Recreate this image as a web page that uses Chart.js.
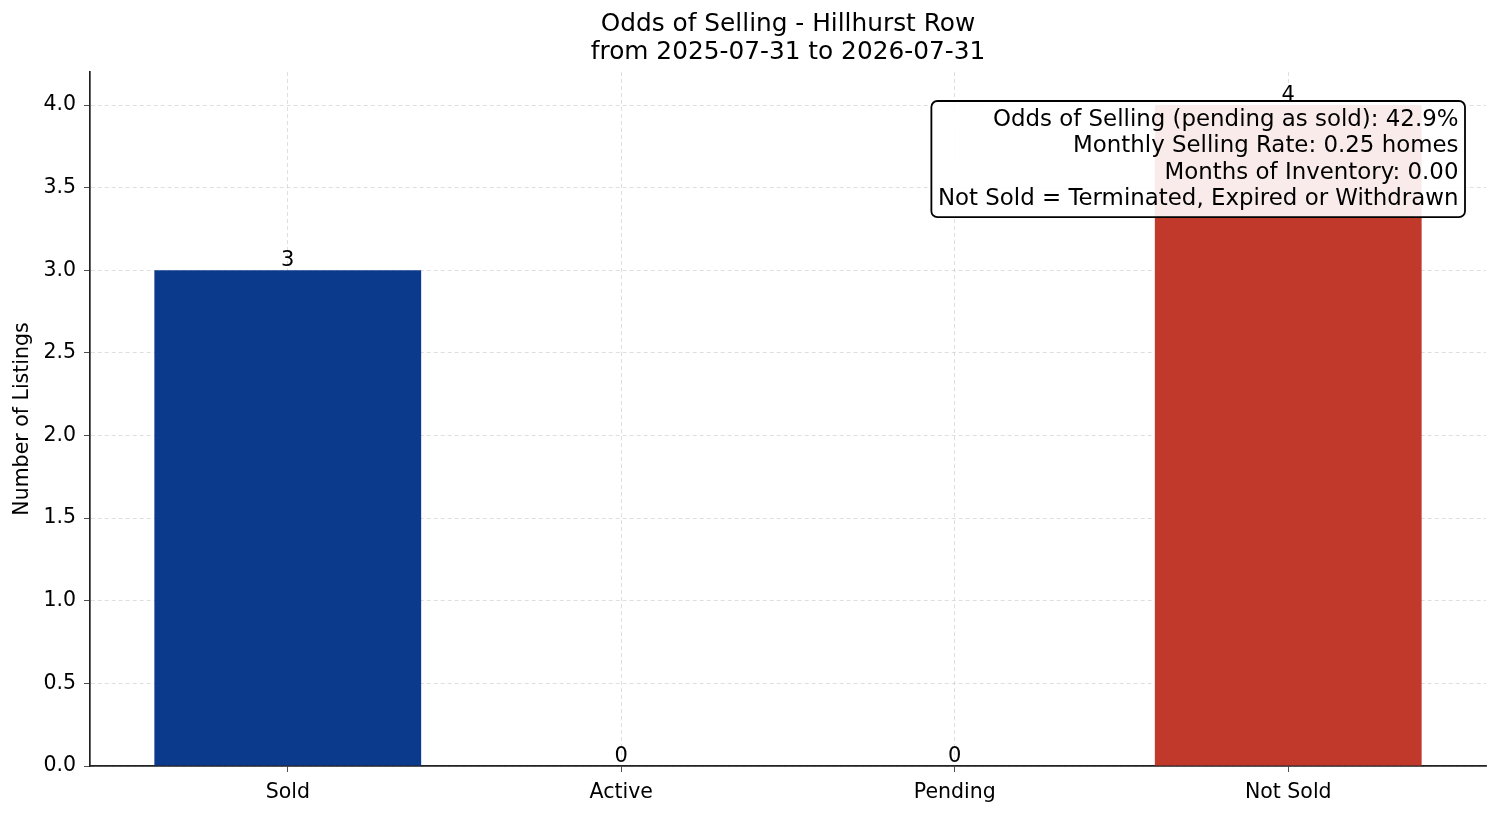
<!DOCTYPE html>
<html>
<head>
<meta charset="utf-8">
<script src="https://cdn.jsdelivr.net/npm/chart.js@4.4.1/dist/chart.umd.min.js"></script>
<style>
  html, body { margin: 0; padding: 0; background: #fff; }
  #wrap { width: 1501px; height: 816px; position: relative; }
</style>
</head>
<body>
<div id="wrap"><canvas id="myChart"></canvas></div>
<script>
var ctx = document.getElementById('myChart');

// data
var statuses = ['Sold', 'Active', 'Pending', 'Not Sold'];
var counts = [3, 0, 0, 4];
var barColors = ['#0b3a8c', '#0b3a8c', '#0b3a8c', '#c0392b'];
var yTicks = [0, 0.5, 1, 1.5, 2, 2.5, 3, 3.5, 4];
var titleLines = ['Odds of Selling - Hillhurst Row', 'from 2025-07-31 to 2026-07-31'];
var infoLines = [
  'Odds of Selling (pending as sold): 42.9%',
  'Monthly Selling Rate: 0.25 homes',
  'Months of Inventory: 0.00',
  'Not Sold = Terminated, Expired or Withdrawn'
];

var FONT = "'DejaVu Sans', sans-serif";

var points = statuses.map(function (s, i) { return { x: i, y: counts[i] }; });

// title centred over the plot area, like the original
var plotTitle = {
  id: 'plotTitle',
  afterDraw: function (chart) {
    var c = chart.ctx;
    var a = chart.chartArea;
    c.save();
    c.font = '24.8px ' + FONT;
    c.fillStyle = '#000';
    c.textAlign = 'center';
    c.textBaseline = 'middle';
    var cx = (a.left + a.right) / 2;
    c.fillText(titleLines[0], cx, 25);
    c.fillText(titleLines[1], cx, 53);
    c.restore();
  }
};

// numbers above the bars
var valueLabels = {
  id: 'valueLabels',
  afterDatasetsDraw: function (chart) {
    var c = chart.ctx;
    var meta = chart.getDatasetMeta(0);
    c.save();
    c.font = '21px ' + FONT;
    c.fillStyle = '#000';
    c.textAlign = 'center';
    c.textBaseline = 'bottom';
    meta.data.forEach(function (bar, i) {
      c.fillText(String(counts[i]), bar.x, bar.y + 1);
    });
    c.restore();
  }
};

// info box in the upper right corner
var infoBox = {
  id: 'infoBox',
  afterDraw: function (chart) {
    var c = chart.ctx;
    var a = chart.chartArea;
    c.save();
    c.font = '22.9px ' + FONT;
    var w = 0;
    infoLines.forEach(function (t) { w = Math.max(w, c.measureText(t).width); });
    var lh = 26.3, padX = 6.5, padY = 5;
    var right = a.right - 21, top = a.top + 29;
    var boxW = w + padX * 2, boxH = lh * infoLines.length + padY * 2 + 1;
    var left = right - boxW;
    c.beginPath();
    c.roundRect(left, top, boxW, boxH, 6);
    c.fillStyle = 'rgba(255,255,255,0.9)';
    c.fill();
    c.lineWidth = 1.8;
    c.strokeStyle = '#000';
    c.stroke();
    c.fillStyle = '#000';
    c.textAlign = 'right';
    c.textBaseline = 'middle';
    infoLines.forEach(function (t, i) {
      c.fillText(t, right - padX, top + padY + 1 + lh * i + lh / 2);
    });
    c.restore();
  }
};

var myChart = new Chart(ctx, {
  type: 'bar',
  data: {
    datasets: [{
      label: 'Listings',
      data: points,
      backgroundColor: barColors,
      borderWidth: 0,
      barPercentage: 0.8,
      categoryPercentage: 1.0
    }]
  },
  options: {
    responsive: true,
    maintainAspectRatio: false,
    animation: false,
    layout: { padding: { left: 0, right: 15, top: 72, bottom: 0 } },
    plugins: {
      legend: { display: false },
      tooltip: { enabled: false },
      title: { display: false }
    },
    scales: {
      x: {
        type: 'linear',
        min: -0.593,
        max: 3.593,
        offset: false,
        z: 1,
        afterBuildTicks: function (scale) {
          scale.ticks = statuses.map(function (s, i) { return { value: i }; });
        },
        afterFit: function (scale) { scale.height = 50; },
        ticks: {
          color: '#000',
          font: { family: FONT, size: 20.5 },
          padding: 8,
          maxRotation: 0,
          autoSkip: false,
          callback: function (v) { return statuses[v]; }
        },
        grid: {
          offset: false,
          color: 'rgba(176,176,176,0.5)',
          tickColor: '#222',
          tickLength: 6,
          lineWidth: 0.8
        },
        border: { display: true, color: '#222', width: 1.7, dash: [4, 3] }
      },
      y: {
        min: 0,
        max: 4.2,
        z: 1,
        afterBuildTicks: function (scale) {
          scale.ticks = yTicks.map(function (v) { return { value: v }; });
        },
        afterFit: function (scale) { scale.width = 90; },
        ticks: {
          color: '#000',
          font: { family: FONT, size: 20.5 },
          padding: 8,
          callback: function (v) { return Number(v).toFixed(1); }
        },
        grid: {
          color: 'rgba(176,176,176,0.5)',
          tickColor: '#222',
          tickLength: 6,
          lineWidth: 0.8
        },
        border: { display: true, color: '#222', width: 1.7, dash: [4, 3] },
        title: {
          display: true,
          text: 'Number of Listings',
          color: '#000',
          font: { family: FONT, size: 20.5 },
          padding: { top: 10, bottom: 0 }
        }
      }
    }
  },
  plugins: [valueLabels, infoBox, plotTitle]
});
</script>
</body>
</html>
